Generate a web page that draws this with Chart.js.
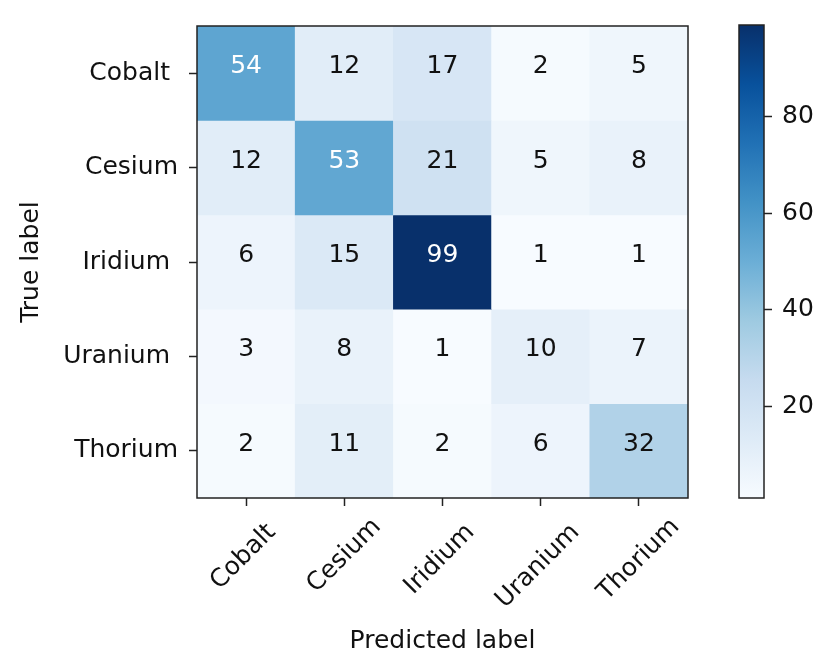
<!DOCTYPE html>
<html>
<head>
<meta charset="utf-8">
<script src="https://cdn.jsdelivr.net/npm/chart.js@4.4.1/dist/chart.umd.min.js"></script>
<style>
  html, body { margin: 0; padding: 0; background: #fff; }
  #wrap { position: relative; width: 825px; height: 656px; overflow: hidden; }
  #matrix { position: absolute; left: 0; top: 0; }
  #bar { position: absolute; left: 700px; top: 0; }
</style>
</head>
<body>
<div id="wrap">
  <canvas id="matrix" width="700" height="656"></canvas>
  <canvas id="bar" width="125" height="656"></canvas>
</div>
<script>
// Class names (true labels on rows, predicted labels on columns)
const classes = ['Cobalt ', 'Cesium', 'Iridium ', 'Uranium ', 'Thorium'];

// Confusion counts, one array per true label
const cobaltRow  = [54, 12, 17, 2, 5];
const cesiumRow  = [12, 53, 21, 5, 8];
const iridiumRow = [6, 15, 99, 1, 1];
const uraniumRow = [3, 8, 1, 10, 7];
const thoriumRow = [2, 11, 2, 6, 32];

// Colorbar tick values
const colorbarTicks = [20, 40, 60, 80];

const rows = [cobaltRow, cesiumRow, iridiumRow, uraniumRow, thoriumRow];
const allValues = rows.flat();
const vmin = Math.min(...allValues);
const vmax = Math.max(...allValues);
const thresh = vmax / 2;

// "Blues" colormap anchors
const BLUES = ['#f7fbff', '#deebf7', '#c6dbef', '#9ecae1', '#6baed6',
               '#4292c6', '#2171b5', '#08519c', '#08306b'];
const hexRgb = h => [1, 3, 5].map(k => parseInt(h.slice(k, k + 2), 16));
function blues(t) {
  t = Math.max(0, Math.min(1, t));
  const pos = t * (BLUES.length - 1);
  const i = Math.min(Math.floor(pos), BLUES.length - 2);
  const f = pos - i;
  const a = hexRgb(BLUES[i]), b = hexRgb(BLUES[i + 1]);
  const c = a.map((v, k) => Math.round(v + (b[k] - v) * f));
  return `rgb(${c[0]},${c[1]},${c[2]})`;
}
const norm = v => (v - vmin) / (vmax - vmin);

const FAMILY = "'DejaVu Sans', sans-serif";
const FS = 25;
const FONT = { family: FAMILY, size: FS, lineHeight: 1.2 };
const INK = '#111';
const SPINE = '#222';

// Cell counts, frame and rotated predicted-label ticks
const matrixDecor = {
  id: 'matrixDecor',
  afterDatasetsDraw(chart) {
    const { ctx, chartArea, scales: { x, y } } = chart;
    ctx.save();
    ctx.font = `${FS}px ${FAMILY}`;
    ctx.textAlign = 'center';
    ctx.textBaseline = 'alphabetic';
    rows.forEach((row, i) => {
      row.forEach((v, j) => {
        ctx.fillStyle = v > thresh ? '#fff' : INK;
        ctx.fillText(String(v), x.getPixelForValue(j), y.getPixelForValue(i));
      });
    });

    ctx.strokeStyle = SPINE;
    ctx.lineWidth = 1.5;
    ctx.strokeRect(chartArea.left, chartArea.top, chartArea.width, chartArea.height);

    // predicted labels rotated 45 degrees, centred under each tick
    ctx.fillStyle = INK;
    ctx.textAlign = 'left';
    const top = chartArea.bottom + 8 + 8;
    const c45 = Math.SQRT1_2;
    classes.forEach((label, j) => {
      const w = ctx.measureText(label).width;
      const h = FS;
      const H = (w + h) * c45;
      const cx = x.getPixelForValue(j);
      const cy = top + H / 2;
      ctx.save();
      ctx.translate(cx, cy);
      ctx.rotate(-Math.PI / 4);
      ctx.fillText(label, -w / 2, 0.262 * FS);
      ctx.restore();
    });
    ctx.restore();
  }
};

new Chart(document.getElementById('matrix'), {
  type: 'bar',
  data: {
    labels: classes,
    datasets: rows.map((row, i) => ({
      label: classes[i],
      data: row.map(() => [i - 0.5, i + 0.5]),
      backgroundColor: row.map(v => blues(norm(v))),
      borderWidth: 0,
      barPercentage: 1,
      categoryPercentage: 1,
      grouped: false
    }))
  },
  options: {
    responsive: false,
    animation: false,
    layout: { padding: { left: 13, right: 12, top: 6, bottom: 0 } },
    plugins: { legend: { display: false }, tooltip: { enabled: false } },
    scales: {
      x: {
        type: 'category',
        offset: true,
        afterFit: s => { s.height = 158; },
        grid: { display: true, offset: false, drawOnChartArea: false, drawTicks: true,
                tickLength: 8, tickColor: SPINE, tickWidth: 1.5 },
        border: { display: false },
        ticks: { display: false },
        title: { display: true, text: 'Predicted label', font: FONT, color: INK,
                 padding: { top: 0, bottom: 0 } }
      },
      y: {
        type: 'linear',
        reverse: true,
        min: -0.5,
        max: 4.5,
        afterBuildTicks: s => { s.ticks = classes.map((_, i) => ({ value: i })); },
        afterFit: s => { s.width = 184; },
        grid: { display: true, drawOnChartArea: false, drawTicks: true,
                tickLength: 8, tickColor: SPINE, tickWidth: 1.5 },
        border: { display: false },
        ticks: { font: FONT, color: INK, padding: 11,
                 callback: v => classes[v] },
        title: { display: true, text: 'True label', font: FONT, color: INK,
                 padding: { top: 3, bottom: 0 } }
      }
    }
  },
  plugins: [matrixDecor]
});

// Colorbar
const barOutline = {
  id: 'barOutline',
  afterDatasetsDraw(chart) {
    const { ctx, chartArea } = chart;
    ctx.save();
    ctx.strokeStyle = SPINE;
    ctx.lineWidth = 1.5;
    ctx.strokeRect(chartArea.left, chartArea.top, chartArea.width, chartArea.height);
    ctx.restore();
  }
};

new Chart(document.getElementById('bar'), {
  type: 'bar',
  data: {
    labels: [''],
    datasets: [{
      data: [[vmin, vmax]],
      backgroundColor: c => {
        const chart = c.chart;
        if (!chart.chartArea) return BLUES[4];
        const ys = chart.scales.y;
        const g = chart.ctx.createLinearGradient(0, ys.getPixelForValue(vmin), 0, ys.getPixelForValue(vmax));
        BLUES.forEach((col, k) => g.addColorStop(k / (BLUES.length - 1), col));
        return g;
      },
      borderWidth: 0,
      barPercentage: 1,
      categoryPercentage: 1
    }]
  },
  options: {
    responsive: false,
    animation: false,
    layout: { padding: { left: 39, right: 0, top: 6, bottom: 158 } },
    plugins: { legend: { display: false }, tooltip: { enabled: false } },
    scales: {
      x: { display: false },
      y: {
        position: 'right',
        min: vmin,
        max: vmax,
        afterBuildTicks: s => { s.ticks = colorbarTicks.map(v => ({ value: v })); },
        afterFit: s => { s.width = 61; },
        grid: { display: true, drawOnChartArea: false, drawTicks: true,
                tickLength: 8, tickColor: SPINE, tickWidth: 1.5 },
        border: { display: false },
        ticks: { font: FONT, color: INK, padding: 10 }
      }
    }
  },
  plugins: [barOutline]
});
</script>
</body>
</html>
